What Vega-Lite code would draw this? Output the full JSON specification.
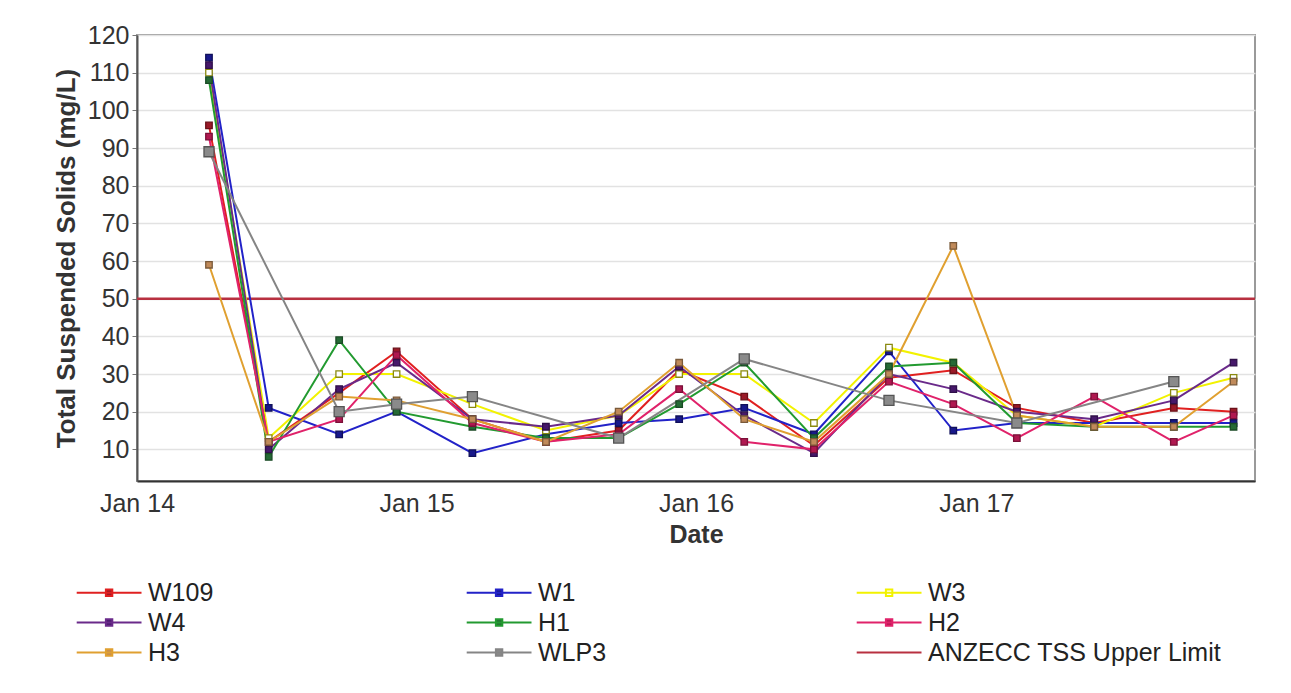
{
  "$schema": "https://vega.github.io/schema/vega-lite/v6.json",
  "width": 1118,
  "height": 446,
  "autosize": {"type": "none"},
  "padding": {"left": 137, "top": 35, "right": 36, "bottom": 212},
  "background": "white",
  "config": {
    "font": "Liberation Sans",
    "view": {"stroke": "#9a9a9a", "strokeWidth": 2},
    "axis": {"labelFont": "Liberation Sans", "titleFont": "Liberation Sans", "labelColor": "#333", "titleColor": "#333"}
  },
  "datasets": {
    "limit": [{"site": "ANZECC TSS Upper Limit", "value": 50}],
    "tss": [
      {"date": "2014-04-05", "site": "W109", "tss": 96}, {"date": "2014-04-05", "site": "W1", "tss": 114}, {"date": "2014-04-05", "site": "W3", "tss": 110}, {"date": "2014-04-05", "site": "W4", "tss": 112}, {"date": "2014-04-05", "site": "H1", "tss": 108}, {"date": "2014-04-05", "site": "H2", "tss": 93}, {"date": "2014-04-05", "site": "H3", "tss": 59}, {"date": "2014-04-05", "site": "WLP3", "tss": 89},
      {"date": "2014-06-22", "site": "W109", "tss": 12}, {"date": "2014-06-22", "site": "W1", "tss": 21}, {"date": "2014-06-22", "site": "W3", "tss": 13}, {"date": "2014-06-22", "site": "W4", "tss": 10}, {"date": "2014-06-22", "site": "H1", "tss": 8}, {"date": "2014-06-22", "site": "H2", "tss": 12}, {"date": "2014-06-22", "site": "H3", "tss": 12},
      {"date": "2014-09-22", "site": "W109", "tss": 25}, {"date": "2014-09-22", "site": "W1", "tss": 14}, {"date": "2014-09-22", "site": "W3", "tss": 30}, {"date": "2014-09-22", "site": "W4", "tss": 26}, {"date": "2014-09-22", "site": "H1", "tss": 39}, {"date": "2014-09-22", "site": "H2", "tss": 18}, {"date": "2014-09-22", "site": "H3", "tss": 24}, {"date": "2014-09-22", "site": "WLP3", "tss": 20},
      {"date": "2014-12-06", "site": "W109", "tss": 36}, {"date": "2014-12-06", "site": "W1", "tss": 20}, {"date": "2014-12-06", "site": "W3", "tss": 30}, {"date": "2014-12-06", "site": "W4", "tss": 33}, {"date": "2014-12-06", "site": "H1", "tss": 20}, {"date": "2014-12-06", "site": "H2", "tss": 35}, {"date": "2014-12-06", "site": "H3", "tss": 23}, {"date": "2014-12-06", "site": "WLP3", "tss": 22},
      {"date": "2015-03-15", "site": "W109", "tss": 18}, {"date": "2015-03-15", "site": "W1", "tss": 9}, {"date": "2015-03-15", "site": "W3", "tss": 22}, {"date": "2015-03-15", "site": "W4", "tss": 18}, {"date": "2015-03-15", "site": "H1", "tss": 16}, {"date": "2015-03-15", "site": "H2", "tss": 17}, {"date": "2015-03-15", "site": "H3", "tss": 18}, {"date": "2015-03-15", "site": "WLP3", "tss": 24},
      {"date": "2015-06-19", "site": "W109", "tss": 12}, {"date": "2015-06-19", "site": "W1", "tss": 14}, {"date": "2015-06-19", "site": "W3", "tss": 15}, {"date": "2015-06-19", "site": "W4", "tss": 16}, {"date": "2015-06-19", "site": "H1", "tss": 13}, {"date": "2015-06-19", "site": "H2", "tss": 12}, {"date": "2015-06-19", "site": "H3", "tss": 12},
      {"date": "2015-09-22", "site": "W109", "tss": 15}, {"date": "2015-09-22", "site": "W1", "tss": 17}, {"date": "2015-09-22", "site": "W3", "tss": 19}, {"date": "2015-09-22", "site": "W4", "tss": 19}, {"date": "2015-09-22", "site": "H1", "tss": 13}, {"date": "2015-09-22", "site": "H2", "tss": 14}, {"date": "2015-09-22", "site": "H3", "tss": 20}, {"date": "2015-09-22", "site": "WLP3", "tss": 13},
      {"date": "2015-12-10", "site": "W109", "tss": 31}, {"date": "2015-12-10", "site": "W1", "tss": 18}, {"date": "2015-12-10", "site": "W3", "tss": 30}, {"date": "2015-12-10", "site": "W4", "tss": 32}, {"date": "2015-12-10", "site": "H1", "tss": 22}, {"date": "2015-12-10", "site": "H2", "tss": 26}, {"date": "2015-12-10", "site": "H3", "tss": 33},
      {"date": "2016-03-04", "site": "W109", "tss": 24}, {"date": "2016-03-04", "site": "W1", "tss": 21}, {"date": "2016-03-04", "site": "W3", "tss": 30}, {"date": "2016-03-04", "site": "W4", "tss": 19}, {"date": "2016-03-04", "site": "H1", "tss": 33}, {"date": "2016-03-04", "site": "H2", "tss": 12}, {"date": "2016-03-04", "site": "H3", "tss": 18}, {"date": "2016-03-04", "site": "WLP3", "tss": 34},
      {"date": "2016-06-03", "site": "W109", "tss": 11}, {"date": "2016-06-03", "site": "W1", "tss": 14}, {"date": "2016-06-03", "site": "W3", "tss": 17}, {"date": "2016-06-03", "site": "W4", "tss": 9}, {"date": "2016-06-03", "site": "H1", "tss": 13}, {"date": "2016-06-03", "site": "H2", "tss": 10}, {"date": "2016-06-03", "site": "H3", "tss": 12},
      {"date": "2016-09-09", "site": "W109", "tss": 29}, {"date": "2016-09-09", "site": "W1", "tss": 36}, {"date": "2016-09-09", "site": "W3", "tss": 37}, {"date": "2016-09-09", "site": "W4", "tss": 30}, {"date": "2016-09-09", "site": "H1", "tss": 32}, {"date": "2016-09-09", "site": "H2", "tss": 28}, {"date": "2016-09-09", "site": "H3", "tss": 30}, {"date": "2016-09-09", "site": "WLP3", "tss": 23},
      {"date": "2016-12-02", "site": "W109", "tss": 31}, {"date": "2016-12-02", "site": "W1", "tss": 15}, {"date": "2016-12-02", "site": "W3", "tss": 33}, {"date": "2016-12-02", "site": "W4", "tss": 26}, {"date": "2016-12-02", "site": "H1", "tss": 33}, {"date": "2016-12-02", "site": "H2", "tss": 22}, {"date": "2016-12-02", "site": "H3", "tss": 64},
      {"date": "2017-02-23", "site": "W109", "tss": 21}, {"date": "2017-02-23", "site": "W1", "tss": 17}, {"date": "2017-02-23", "site": "W3", "tss": 19}, {"date": "2017-02-23", "site": "W4", "tss": 20}, {"date": "2017-02-23", "site": "H1", "tss": 17}, {"date": "2017-02-23", "site": "H2", "tss": 13}, {"date": "2017-02-23", "site": "H3", "tss": 19}, {"date": "2017-02-23", "site": "WLP3", "tss": 17},
      {"date": "2017-06-04", "site": "W109", "tss": 17}, {"date": "2017-06-04", "site": "W1", "tss": 17}, {"date": "2017-06-04", "site": "W3", "tss": 16}, {"date": "2017-06-04", "site": "W4", "tss": 18}, {"date": "2017-06-04", "site": "H1", "tss": 16}, {"date": "2017-06-04", "site": "H2", "tss": 24}, {"date": "2017-06-04", "site": "H3", "tss": 16},
      {"date": "2017-09-16", "site": "W109", "tss": 21}, {"date": "2017-09-16", "site": "W1", "tss": 17}, {"date": "2017-09-16", "site": "W3", "tss": 25}, {"date": "2017-09-16", "site": "W4", "tss": 23}, {"date": "2017-09-16", "site": "H1", "tss": 16}, {"date": "2017-09-16", "site": "H2", "tss": 12}, {"date": "2017-09-16", "site": "H3", "tss": 16}, {"date": "2017-09-16", "site": "WLP3", "tss": 28},
      {"date": "2017-12-03", "site": "W109", "tss": 20}, {"date": "2017-12-03", "site": "W1", "tss": 17}, {"date": "2017-12-03", "site": "W3", "tss": 29}, {"date": "2017-12-03", "site": "W4", "tss": 33}, {"date": "2017-12-03", "site": "H1", "tss": 16}, {"date": "2017-12-03", "site": "H2", "tss": 19}, {"date": "2017-12-03", "site": "H3", "tss": 28}
    ]
  },
  "encoding": {
    "x": {
      "field": "date", "type": "temporal", "title": "Date",
      "scale": {"type": "utc", "domain": [{"year": 2014, "month": 1, "date": 1, "utc": true}, {"year": 2017, "month": 12, "date": 31, "utc": true}]},
      "axis": {
        "values": [{"year": 2014, "month": 1, "date": 1, "utc": true}, {"year": 2015, "month": 1, "date": 1, "utc": true}, {"year": 2016, "month": 1, "date": 1, "utc": true}, {"year": 2017, "month": 1, "date": 1, "utc": true}],
        "labelExpr": "utcFormat(datum.value, '%b %y')", "grid": false, "ticks": false, "labelFontSize": 25, "labelPadding": 10,
        "domainColor": "#333", "domainWidth": 2, "titleFontSize": 25, "titleFontWeight": "bold", "titlePadding": 6, "labelFlush": false
      }
    },
    "y": {
      "field": "tss", "type": "quantitative", "title": "Total Suspended Solids (mg/L)",
      "scale": {"domain": [1.6, 120], "nice": false, "zero": false},
      "axis": {
        "values": [10, 20, 30, 40, 50, 60, 70, 80, 90, 100, 110, 120],
        "grid": true, "gridColor": "#e2e2e2", "gridWidth": 1.5, "tickSize": 5, "tickColor": "#777",
        "labelFontSize": 25, "labelPadding": 3, "domainColor": "#555", "domainWidth": 2,
        "titleFontSize": 26, "titleFontWeight": "bold", "titlePadding": 8
      }
    },
    "color": {"field": "site", "type": "nominal",
      "scale": {"domain": ["W109", "W1", "W3", "W4", "H1", "H2", "H3", "WLP3", "ANZECC TSS Upper Limit"],
                "range": ["#e02020", "#2222c8", "#f2f200", "#6a2a8a", "#229a30", "#e0226a", "#e0a030", "#858585", "#b83040"]},
      "legend": {
        "title": null, "orient": "none", "legendX": -16, "legendY": 545, "direction": "horizontal",
        "columns": 3, "gridAlign": "all", "columnPadding": 20, "rowPadding": 4, "padding": 0,
        "labelFontSize": 25, "labelColor": "#222", "labelFont": "Liberation Sans", "labelOffset": 2, "labelLimit": 400,
        "symbolSize": 256, "symbolStrokeWidth": 2, "symbolOffset": 0,
        "symbolType": "M-7.1,0H1M-3.45,-0.4H-2.65V0.4H-3.45Z",
        "encode": {"symbols": {"update": {
          "fill": [{"test": "datum.value === 'ANZECC TSS Upper Limit'", "value": "transparent"}, {"scale": "fill", "field": "value"}],
          "shape": [{"test": "datum.value === 'ANZECC TSS Upper Limit'", "value": "M-7.1,0H1"}, {"value": "M-7.1,0H1M-3.45,-0.4H-2.65V0.4H-3.45Z"}]
        }}}
      }
    }
  },
  "layer": [
    {
      "data": {"name": "limit"},
      "mark": {"type": "rule", "strokeWidth": 2.5},
      "encoding": {
        "x": null,
        "y": {"field": "value", "type": "quantitative"}
      }
    },
    {
      "data": {"name": "tss"},
      "mark": {"type": "line", "strokeWidth": 2}
    },
    {
      "data": {"name": "tss"},
      "mark": {"type": "point", "shape": "square", "filled": false, "strokeWidth": 1.3, "fillOpacity": 1, "opacity": 1},
      "encoding": {
        "color": null,
        "fill": {"field": "site", "type": "nominal", "legend": null,
          "scale": {"domain": ["W109", "W1", "W3", "W4", "H1", "H2", "H3", "WLP3"],
                    "range": ["#9a1a28", "#18188a", "#ffffff", "#46186a", "#256a35", "#b01850", "#c08a5a", "#8a8a8a"]}},
        "stroke": {"field": "site", "type": "nominal", "legend": null,
          "scale": {"domain": ["W109", "W1", "W3", "W4", "H1", "H2", "H3", "WLP3"],
                    "range": ["#6a1018", "#10105a", "#8a8a10", "#30104a", "#1a4a25", "#7a1038", "#7a5a3a", "#555555"]}},
        "size": {"condition": {"test": "datum.site === 'WLP3'", "value": 100}, "value": 42}
      }
    }
  ]
}
